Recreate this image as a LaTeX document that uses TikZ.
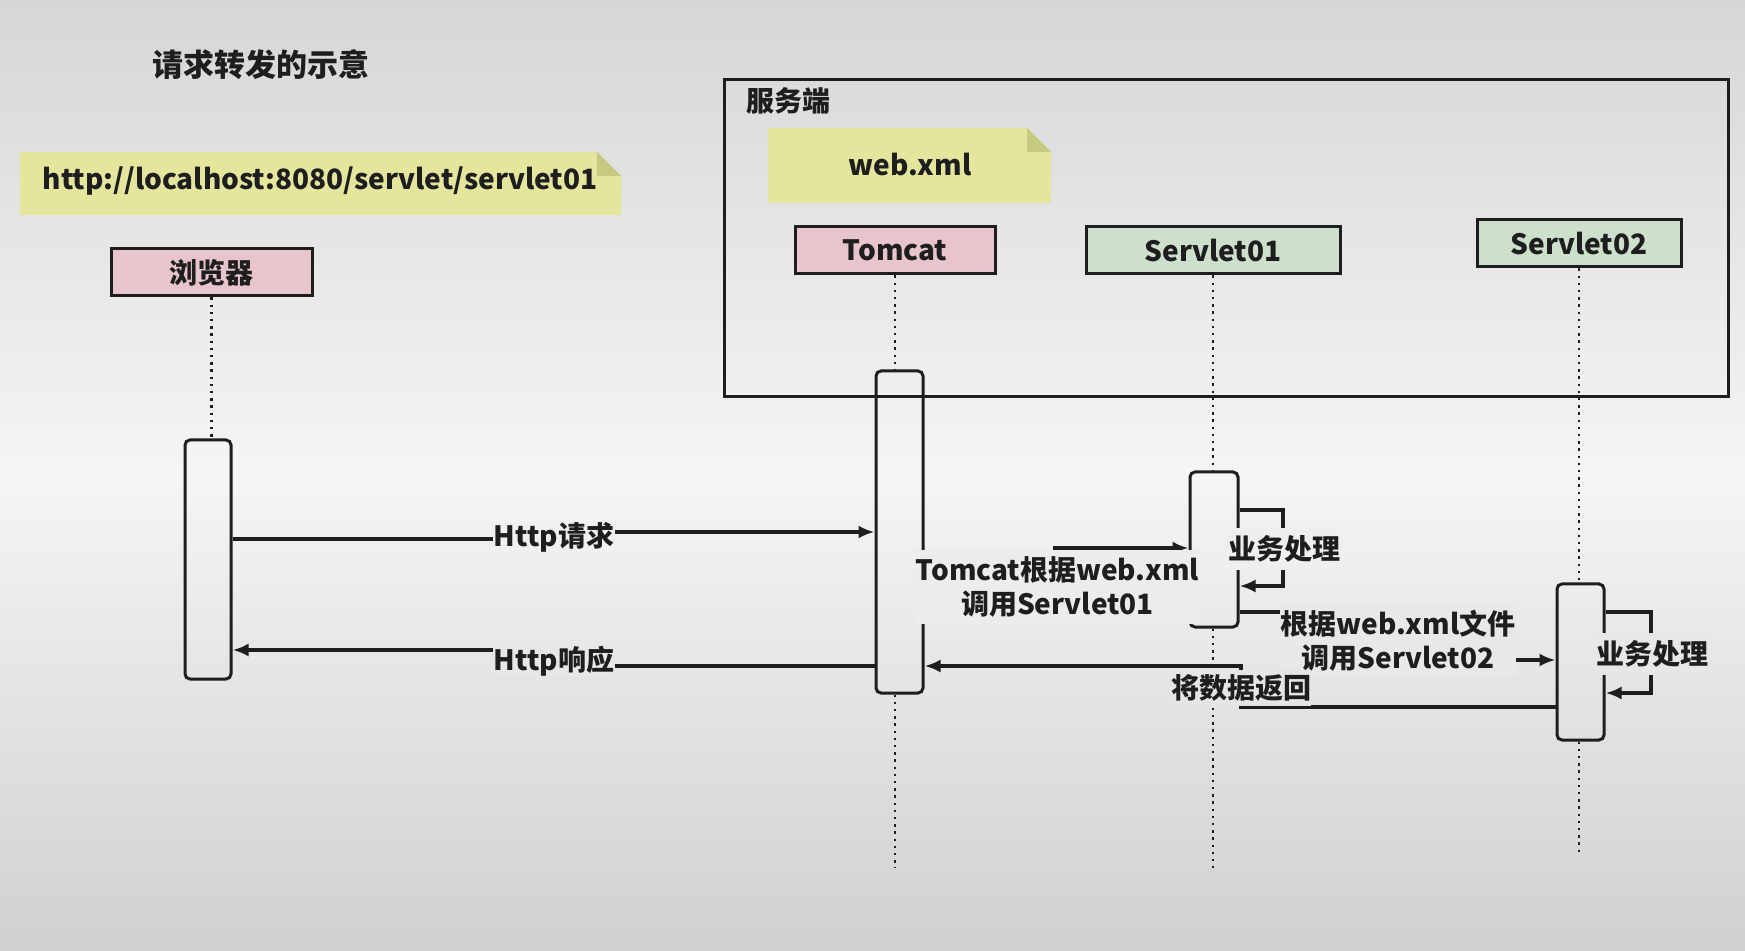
\documentclass[tikz,border=0pt]{standalone}
\usepackage{fontspec}
\setmainfont{Noto Sans CJK SC}
\usetikzlibrary{arrows.meta}
\definecolor{notec}{RGB}{228,230,158}
\definecolor{foldc}{RGB}{198,201,128}
\definecolor{pinkc}{RGB}{232,196,205}
\definecolor{greenc}{RGB}{204,224,204}
\definecolor{inkc}{RGB}{30,30,30}
\definecolor{bgtop}{RGB}{214,214,214}
\definecolor{bgmid}{RGB}{245,245,245}
\definecolor{bgbot}{RGB}{208,208,208}
\definecolor{g240}{RGB}{240,240,240}
\definecolor{g239}{RGB}{239,239,239}
\definecolor{g236}{RGB}{236,236,236}
\definecolor{g232}{RGB}{232,232,232}
\definecolor{g231}{RGB}{231,231,231}
\definecolor{g229}{RGB}{229,229,229}
\begin{document}
\begin{tikzpicture}[x=0.5pt,y=-0.5pt,
  every node/.style={text=inkc, font=\bfseries\fontsize{14}{17}\selectfont},
  actor/.style={draw=inkc, line width=1.5pt, minimum height=23.5pt, inner sep=0pt},
  bar/.style={draw=inkc, line width=1.5pt, rounded corners=2.5pt, inner sep=0pt, minimum width=23.5pt},
  life/.style={draw=inkc, line width=1.2pt, dash pattern=on 1.2pt off 2.4pt},
  msg/.style={draw=inkc, line width=1.6pt},
  arr/.style={-{Latex[length=8pt,width=6.5pt]}},
  lab/.style={inner sep=0pt, align=center},
]
\shade[top color=bgtop, bottom color=bgbot, middle color=bgmid] (0,0) rectangle (1745,951);
\useasboundingbox (0,0) rectangle (1745,951);

\node[font=\bfseries\fontsize{15.5}{18}\selectfont] (title) at (261,65) {请求转发的示意};

% URL note
\fill[notec] (20,152) -- (597,152) -- (621,176) -- (621,215) -- (20,215) -- cycle;
\fill[foldc] (597,152) -- (621,176) -- (597,176) -- cycle;
\node (url) at (320,181) {http://localhost:8080/servlet/servlet01};

% server frame
\draw[inkc, line width=1.5pt] (724,80) rectangle (1728,397);
\node[anchor=west] (srv) at (739,101) {服务端};

% web.xml note
\fill[notec] (768,128) -- (1027,128) -- (1051,152) -- (1051,203) -- (768,203) -- cycle;
\fill[foldc] (1027,128) -- (1051,152) -- (1027,152) -- cycle;
\node (web) at (910,165) {web.xml};

% actors
\node[actor, fill=pinkc, minimum width=100.5pt] (br) at (211.5,272.5) {浏览器};
\node[actor, fill=pinkc, minimum width=100pt] (tc) at (895,250.5) {Tomcat};
\node[actor, fill=greenc, minimum width=127pt] (s1) at (1213,250.5) {Servlet01};
\node[actor, fill=greenc, minimum width=102pt] (s2) at (1579,243.5) {Servlet02};

% activation bars
\node[bar, minimum width=23pt, minimum height=119.5pt] (brbar) at (208,559.5) {};
\node[bar, minimum height=161pt] (tcbar) at (899.5,532) {};
\node[bar, minimum width=24pt, minimum height=77.5pt] (s1bar) at (1214,549.5) {};
\node[bar, minimum height=78pt] (s2bar) at (1580.5,662) {};

% lifelines
\coordinate (tcend) at (895,868);
\coordinate (s1end) at (1213,868);
\coordinate (s2end) at (1579,855);
\draw[life] (br.south) -- (br.south |- brbar.north);
\draw[life] (tc.south) -- (tc.south |- tcbar.north);
\draw[life] (tc.south |- tcbar.south) -- (tcend);
\draw[life] (s1.south) -- (s1.south |- s1bar.north);
\draw[life] (s1.south |- s1bar.south) -- (s1end);
\draw[life] (s2.south) -- (s2.south |- s2bar.north);
\draw[life] (s2.south |- s2bar.south) -- (s2end);

% messages
\draw[msg, arr] (brbar.east |- 0,539) -- (554,539) -- (554,532) -- (tcbar.west |- 0,532);
\draw[msg, arr] (tcbar.west |- 0,666) -- (554,666) -- (554,650) -- (brbar.east |- 0,650);
\draw[msg, arr] (tcbar.east |- 0,600) -- (1055,600) -- (1055,548) -- (s1bar.west |- 0,548);
\draw[msg, arr] (s1bar.east |- 0,510) -- (1283,510) -- (1283,586) -- (s1bar.east |- 0,586);
\draw[msg, arr] (s1bar.east |- 0,612) -- (1398,612) -- (1398,660) -- (s2bar.west |- 0,660);
\draw[msg, arr] (s2bar.east |- 0,612) -- (1651,612) -- (1651,693) -- (s2bar.east |- 0,693);
\draw[msg, arr] (s2bar.west |- 0,707) -- (1241,707) -- (1241,666) -- (tcbar.east |- 0,666);

% labels
\node[lab, fill=g240, minimum width=61pt, minimum height=15pt] (lreq) at (554,537) {Http请求};
\node[lab, fill=g231, minimum width=61pt, minimum height=15pt] (lresp) at (554,661) {Http响应};
\node[lab, fill=g236, minimum width=140.5pt, minimum height=37pt] (ltc) at (1057.5,587) {Tomcat根据web.xml\\调用Servlet01};
\node[lab, fill=g239, minimum width=58pt, minimum height=21pt] (lbiz1) at (1284,549) {业务处理};
\node[lab, fill=g232, minimum width=118pt, minimum height=35pt] (lcall2) at (1398,641) {根据web.xml文件\\调用Servlet02};
\node[lab, fill=g231, minimum width=56pt, minimum height=21pt] (lbiz2) at (1652,654) {业务处理};
\node[lab, fill=g229, minimum width=70pt, minimum height=18pt] (lret) at (1241,687.5) {将数据返回};
\end{tikzpicture}
\end{document}
